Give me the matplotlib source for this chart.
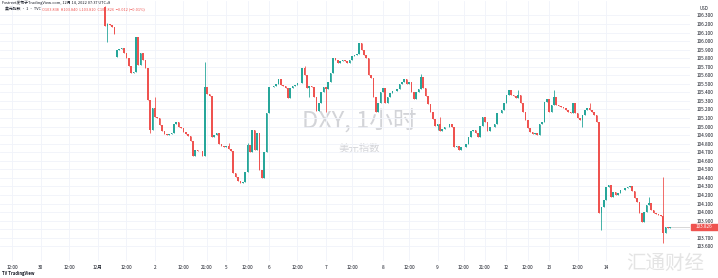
import matplotlib
matplotlib.use('Agg')
import matplotlib.pyplot as plt
from matplotlib.patches import Rectangle

plt.rcParams['font.family'] = ['Noto Sans CJK SC', 'DejaVu Sans']

# hourly closes of DXY, Dec 1 - Dec 14 2022
closes = [
    106.177, 106.200, 106.188, 106.165, 106.083, 105.896, 105.908, 105.919, 105.861, 105.802,
    105.709, 105.627, 105.639, 106.048, 105.720, 105.861, 105.779, 105.685, 105.311, 104.960,
    105.218, 105.112, 105.101, 105.019, 104.949, 104.913, 104.902, 104.913, 104.925, 105.030,
    105.054, 104.995, 104.984, 104.937, 104.913, 104.890, 104.832, 104.656, 104.726, 104.715,
    104.715, 104.656, 105.463, 105.381, 105.358, 104.878, 104.902, 104.925, 104.796, 104.773,
    104.761, 104.773, 104.738, 104.715, 104.457, 104.411, 104.364, 104.340, 104.352, 104.469,
    104.785, 104.703, 104.960, 104.726, 104.925, 104.492, 104.399, 104.703, 105.159, 105.463,
    105.463, 105.475, 105.498, 105.557, 105.487, 105.475, 105.451, 105.335, 105.451, 105.475,
    105.487, 105.510, 105.510, 105.685, 105.604, 105.451, 105.475, 105.463, 105.346, 105.182,
    105.276, 105.405, 105.463, 105.440, 105.522, 105.627, 105.802, 105.779, 105.744, 105.767,
    105.779, 105.767, 105.744, 105.779, 105.826, 105.837, 105.849, 105.978, 105.896, 105.837,
    105.802, 105.604, 105.568, 105.346, 105.171, 105.276, 105.405, 105.451, 105.276, 105.346,
    105.393, 105.416, 105.416, 105.440, 105.498, 105.522, 105.557, 105.498, 105.522, 105.405,
    105.323, 105.405, 105.440, 105.580, 105.451, 105.358, 105.264, 105.171, 105.089, 105.007,
    105.030, 104.949, 104.972, 104.995, 104.995, 105.030, 104.995, 104.761, 104.773, 104.726,
    104.761, 104.761, 104.796, 104.878, 104.949, 104.960, 104.925, 104.878, 105.007, 105.112,
    105.054, 104.949, 104.995, 104.995, 105.030, 105.159, 105.159, 105.194, 105.276, 105.370,
    105.428, 105.370, 105.358, 105.335, 105.370, 105.276, 105.171, 105.077, 104.984, 104.937,
    104.913, 104.925, 104.902, 105.030, 105.054, 105.288, 105.323, 105.171, 105.253, 105.346,
    105.253, 105.241, 105.229, 105.218, 105.194, 105.171, 105.159, 105.276, 105.159, 105.101,
    105.077, 105.136, 105.194, 105.218, 105.194, 105.171, 105.136, 105.054, 103.990, 104.060,
    104.142, 104.294, 104.317, 104.177, 104.235, 104.200, 104.223, 104.259, 104.259, 104.282,
    104.294, 104.305, 104.247, 104.165, 104.118, 103.990, 103.885, 104.001, 104.083, 104.107,
    104.025, 103.990, 103.978, 103.966, 103.955, 103.756, 103.826, 103.815, 103.826,
]
first_open = 106.399
gap_opens = {5: 105.814}

# bars with visible wicks: index -> (high, low)
wicks = {
    0: (106.410, 106.177),
    1: (106.212, 105.989),
    19: (105.311, 104.925),
    21: (105.346, 105.112),
    42: (105.756, 104.656),
    52: (104.808, 104.738),
    60: (104.808, 104.469),
    84: (105.709, 105.604),
    86: (105.451, 105.346),
    93: (105.463, 105.171),
    107: (105.732, 105.849),
    133: (105.615, 105.440),
    140: (105.030, 104.960),
    141: (105.112, 104.949),
    174: (105.428, 105.335),
    189: (105.428, 105.253),
    201: (105.136, 104.995),
    204: (105.276, 105.194),
    209: (104.060, 103.791),
    229: (104.177, 104.083),
    235: (104.411, 103.639),
}

price_ticks = [106.3, 106.2, 106.1, 106.0, 105.9, 105.8, 105.7, 105.6, 105.5, 105.4,
               105.3, 105.2, 105.1, 105.0, 104.9, 104.8, 104.7, 104.6, 104.5, 104.4,
               104.3, 104.2, 104.1, 104.0, 103.9, 103.8, 103.7, 103.6]
time_pos = [-39, -27, -15, -3, 9, 21, 33, 43, 51, 60, 69, 81, 93, 104, 117, 128,
            140, 151, 160, 169, 178, 187, 199, 211]
time_labels = ['12:00', '30', '12:00', '12月', '12:00', '2', '12:00', '21:00', '5',
               '12:00', '6', '12:00', '7', '12:00', '8', '12:00', '9', '12:00',
               '21:00', '12', '12:00', '13', '12:00', '14']

up = '#26a69a'
down = '#ef5350'

n = len(closes)
opens = [first_open] + closes[:-1]
for k, v in gap_opens.items():
    opens[k] = v
highs = [max(o, c) for o, c in zip(opens, closes)]
lows = [min(o, c) for o, c in zip(opens, closes)]
for k, (h, l) in wicks.items():
    highs[k] = max(highs[k], h)
    lows[k] = min(lows[k], l)

W, H = 718, 278
fig = plt.figure(figsize=(W / 100, H / 100), dpi=100)
ax = fig.add_axes([0, 17 / H, 690 / W, 260 / H])

colors = [up if c >= o else down for o, c in zip(opens, closes)]
idx = list(range(n))
ax.vlines(idx, lows, highs, colors=colors, linewidth=0.6, zorder=2)
bottoms = [min(o, c) for o, c in zip(opens, closes)]
heights = [max(abs(c - o), 0.005) for o, c in zip(opens, closes)]
ax.bar(idx, heights, bottom=bottoms, width=0.72, color=colors, linewidth=0, zorder=3)

# pixel x = 105 + 2.375 * bar
ax.set_xlim(-105 / 2.375, (690 - 105) / 2.375)
ax.set_ylim(103.428, 106.469)

last = closes[-1]
ax.yaxis.tick_right()
ax.set_yticks(price_ticks)
# the last-price label hides the tick label under it
ax.set_yticklabels(['' if abs(p - last) < 0.06 else '%.3f' % p for p in price_ticks])
ax.set_xticks(time_pos)
ax.set_xticklabels(time_labels)
ax.tick_params(axis='both', length=0, labelsize=3.4, colors='#131722')
ax.tick_params(axis='y', pad=5)
ax.tick_params(axis='x', pad=3)
ax.grid(True, color='#f0f3fa', linewidth=0.6, zorder=0)
for s in ax.spines.values():
    s.set_visible(False)

# watermark
ax.text(0.5213, 0.535, 'DXY, 1小时', transform=ax.transAxes, ha='center', va='center',
        fontsize=17, color='#d3d4d8', zorder=1)
ax.text(0.5213, 0.43, '美元指数', transform=ax.transAxes, ha='center', va='center',
        fontsize=7.5, color='#d3d4d8', zorder=1)

# last price line and label
ax.plot([n - 1, (690 - 105) / 2.375], [last, last], color='#c8c8c8', linewidth=0.5, zorder=1)
ly = (last - 103.428) / (106.469 - 103.428) * 260 / H + 17 / H
fig.patches.append(Rectangle((691 / W, ly - 3.2 / H), 27 / W, 6.4 / H,
                             transform=fig.transFigure, color=down, zorder=5))
fig.text(704 / W, ly, '%.3f' % last, ha='center', va='center', fontsize=3.3,
         color='white', zorder=6)

# header
fig.text(704 / W, 1 - 8 / H, 'USD', ha='center', va='center', fontsize=3.2, color='#131722')
fig.text(2 / W, 1 - 3 / H, 'Fxstreet发布于TradingView.com, 12月 14, 2022 07:37 UTC+8',
         ha='left', va='center', fontsize=2.8, color='#131722')
fig.text(5 / W, 1 - 9.5 / H, '美元指数 · 1 · TVC', ha='left', va='center',
         fontsize=2.8, color='#131722')
fig.text(42 / W, 1 - 9.5 / H, 'O103.838  H103.840  L103.810  C103.826  −0.012 (−0.01%)',
         ha='left', va='center', fontsize=2.8, color=down)

# footer
fig.text(2 / W, 1 - 273 / H, 'TV TradingView', ha='left', va='center', fontsize=3.0,
         color='#131722', fontweight='bold')
fig.text(665 / W, 1 - 263 / H, '汇通财经', ha='center', va='center', fontsize=14,
         color='#e4e4e4', zorder=0)

fig.savefig('out.png', dpi=100, facecolor='white')
